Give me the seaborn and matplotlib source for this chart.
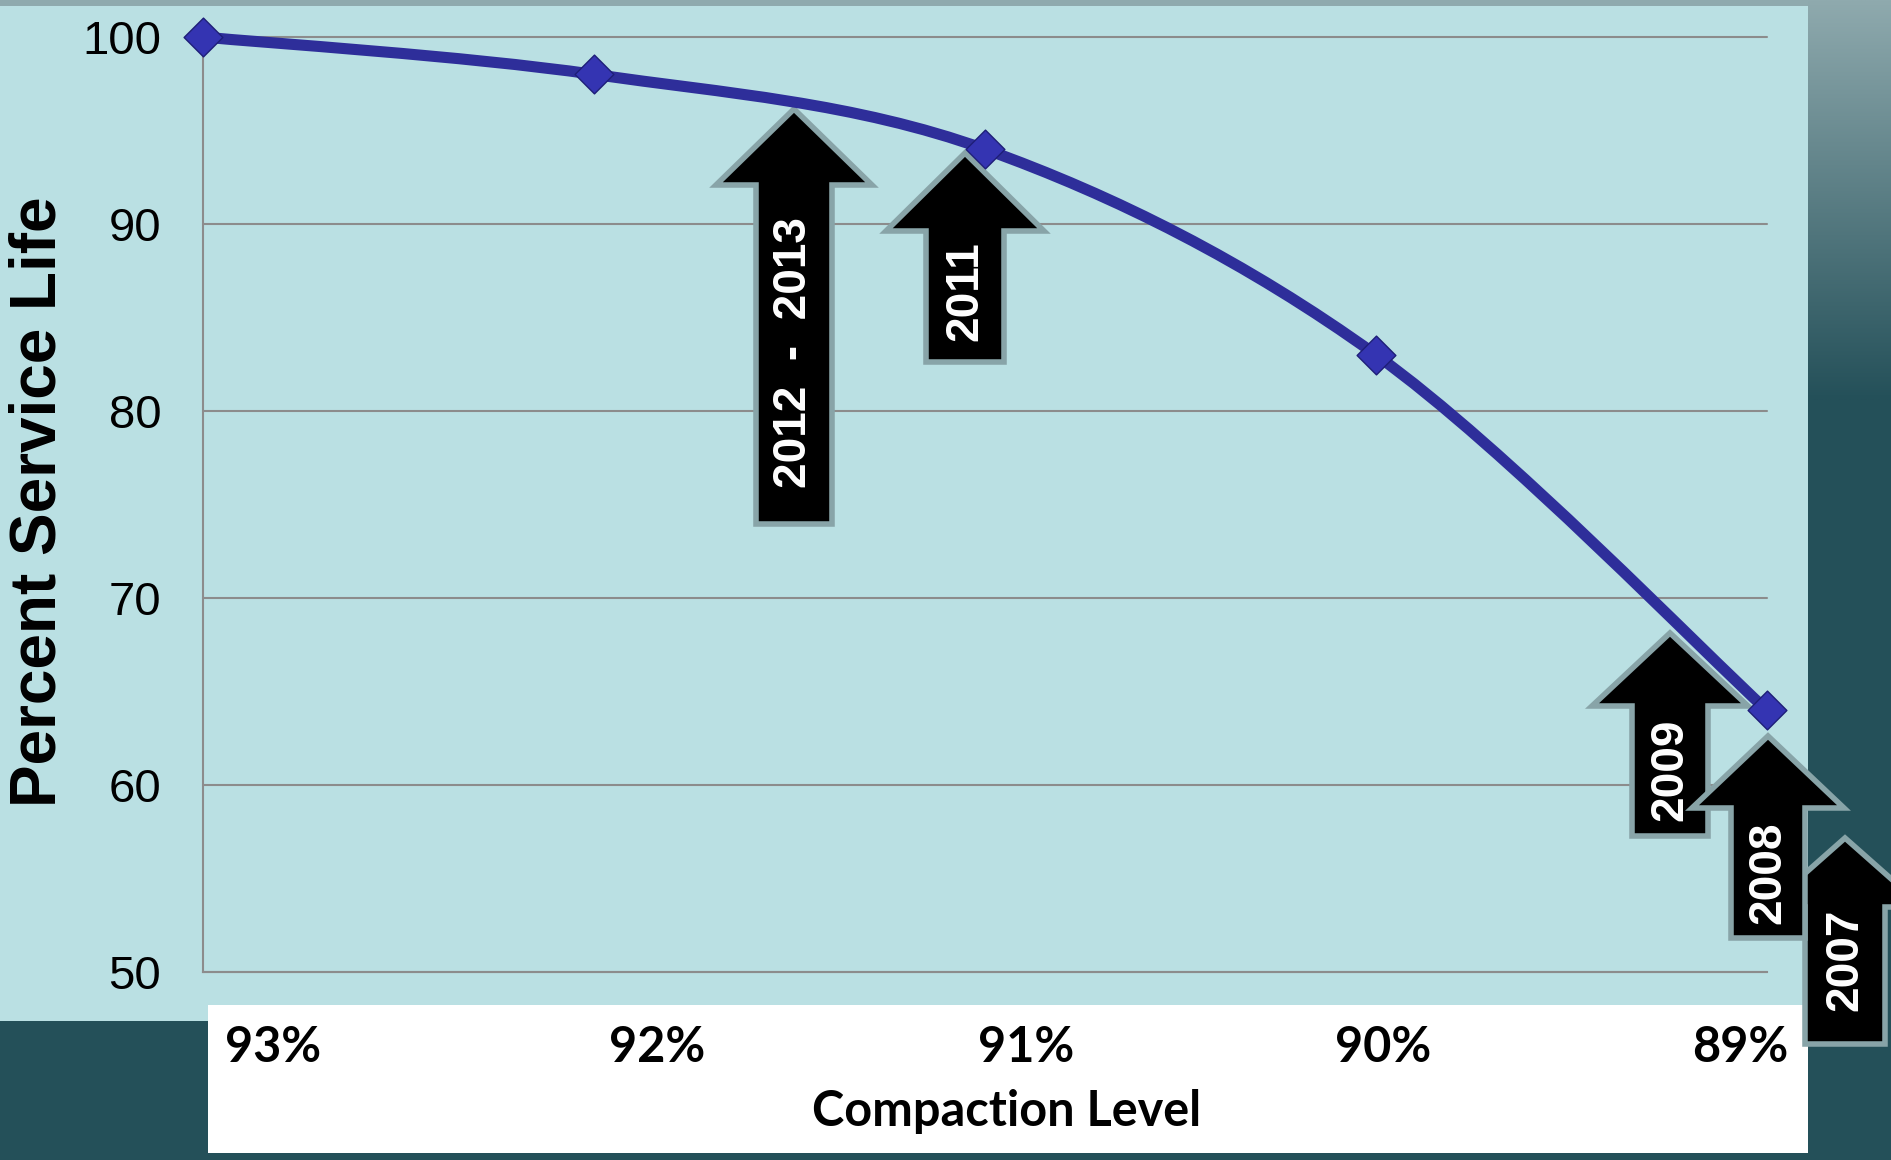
import numpy as np
import matplotlib
matplotlib.use("Agg")
import matplotlib.pyplot as plt
import seaborn as sns
from matplotlib.path import Path
from matplotlib.patches import PathPatch, Polygon, Rectangle
from matplotlib.colors import LinearSegmentedColormap
import matplotlib.transforms as mtransforms

# ---------------- data ----------------
compaction_levels = ["93%", "92%", "91%", "90%", "89%"]
service_life = [100, 98, 94, 83, 64]
y_ticks = [50, 60, 70, 80, 90, 100]
arrow_labels = ["2012  -  2013", "2011", "2009", "2007", "2008"]
x_label = "Compaction Level"
y_label = "Percent Service Life"

# ---------------- layout / style ----------------
W, H, DPI = 1891, 1160, 100
LIGHT = "#BAE0E3"
DARK = "#245059"
TOP_GRAY = "#8FAAAE"
GRID = "#8C8C8C"
LINE = "#2E2E9A"
ARROW_EDGE = "#88A4A8"

# arrow geometry in figure pixels: (center x, tip y, head base y, head half-width,
#                                   shaft half-width, bottom y, text y)
arrow_geom = [
    (794, 109, 185, 78, 38, 524, 353),
    (965, 153, 231, 79, 39, 362, 291),
    (1670, 633, 706, 78, 38, 836, 770),
    (1845, 838, 907, 78, 40, 1044, 960),
    (1768, 736, 808, 76, 37, 938, 873),
]
tick_label_x_px = [273, 657, 1026, 1383, 1740]

sns.set_theme(style="white")
plt.rcParams['font.family'] = ['Liberation Sans', 'DejaVu Sans']

fig = plt.figure(figsize=(W / DPI, H / DPI), dpi=DPI)
px = mtransforms.Affine2D().scale(1 / W, -1 / H).translate(0, 1) + fig.transFigure

# ---------------- background ----------------
bg = fig.add_axes([0, 0, 1, 1], zorder=-10)
bg.add_patch(Rectangle((0, 0), W, H, color=DARK, lw=0, zorder=0.1))
cmap = LinearSegmentedColormap.from_list("g", [TOP_GRAY, DARK])
bg.imshow(np.linspace(0, 1, 256)[:, None], extent=[1808, W, 400, 0],
          cmap=cmap, aspect="auto", interpolation="bilinear", zorder=0.5)
bg.add_patch(Rectangle((0, 0), 1808, 7, color=TOP_GRAY, lw=0, zorder=1))
bg.add_patch(Rectangle((0, 6), 1808, 1015, color=LIGHT, lw=0, zorder=1))
bg.add_patch(Rectangle((208, 1005), 1600, 148, color="white", lw=0, zorder=1))
bg.set_xlim(0, W)
bg.set_ylim(H, 0)
bg.axis("off")

for lbl, xp in zip(compaction_levels, tick_label_x_px):
    bg.text(xp, 1048, lbl, ha="center", va="center", fontsize=35,
            fontweight="bold", family=["Lato", "DejaVu Sans"], color="black",
            zorder=2)
bg.text(1007, 1111, x_label, ha="center", va="center", fontsize=35,
        fontweight="bold", family=["Lato", "DejaVu Sans"], color="black",
        zorder=2)

# ---------------- main axes ----------------
ax = fig.add_axes([203 / W, 1 - 972 / H, (1767 - 203) / W, (972 - 37) / H])
ax.set_facecolor("none")
xpos = np.arange(len(compaction_levels))

# smooth (Excel-style) line through the data points
xs = xpos.astype(float)
ys = np.asarray(service_life, dtype=float)
n = len(xs)
verts = [(xs[0], ys[0])]
codes = [Path.MOVETO]
for i in range(n - 1):
    p0 = np.array([xs[max(i - 1, 0)], ys[max(i - 1, 0)]])
    p1 = np.array([xs[i], ys[i]])
    p2 = np.array([xs[i + 1], ys[i + 1]])
    p3 = np.array([xs[min(i + 2, n - 1)], ys[min(i + 2, n - 1)]])
    c1 = p1 + (p2 - p0) / 6.0
    c2 = p2 - (p3 - p1) / 6.0
    verts += [tuple(c1), tuple(c2), tuple(p2)]
    codes += [Path.CURVE4] * 3
ax.add_patch(PathPatch(Path(verts, codes), fill=False, edgecolor=LINE, lw=8,
                       capstyle="butt", zorder=3, clip_on=False))

sns.scatterplot(x=xpos, y=service_life, marker="D", s=390, color="#3434B2",
                edgecolor="#1E1E78", linewidth=1, zorder=4, clip_on=False,
                legend=False, ax=ax)

ax.set_xlim(0, len(compaction_levels) - 1)
ax.set_ylim(min(y_ticks), max(y_ticks))
ax.set_yticks(y_ticks)
ax.set_xticks([])
ax.yaxis.grid(True, color=GRID, lw=1.5)
ax.xaxis.grid(False)
for gl in ax.get_ygridlines():
    gl.set_clip_on(False)
for s in ["top", "right"]:
    ax.spines[s].set_visible(False)
for s in ["left", "bottom"]:
    ax.spines[s].set_color(GRID)
    ax.spines[s].set_linewidth(1.5)
ax.tick_params(axis="y", length=0, pad=30, labelsize=34, labelcolor="black")
ax.set_xlabel("")
ax.set_ylabel(y_label, fontsize=46, fontweight="bold", color="black")
ax.yaxis.set_label_coords((39 - 203) / 1564, (972 - 502) / 935)
ax.yaxis.label.set_va("center")

# ---------------- arrows ----------------
for lbl, (cx, tip, base, hh, sh, bot, ty) in zip(arrow_labels, arrow_geom):
    pts = [(cx, tip), (cx + hh, base), (cx + sh, base), (cx + sh, bot),
           (cx - sh, bot), (cx - sh, base), (cx - hh, base)]
    ax.add_patch(Polygon(pts, closed=True, facecolor="black",
                         edgecolor=ARROW_EDGE, lw=4, joinstyle="miter",
                         transform=px, clip_on=False, zorder=2.5))
    ax.text(cx, ty, lbl, transform=px, rotation=90, ha="center", va="center",
            rotation_mode="anchor", color="white", fontsize=33,
            fontweight="bold", zorder=2.6, clip_on=False)

fig.savefig("out.png", dpi=DPI)
